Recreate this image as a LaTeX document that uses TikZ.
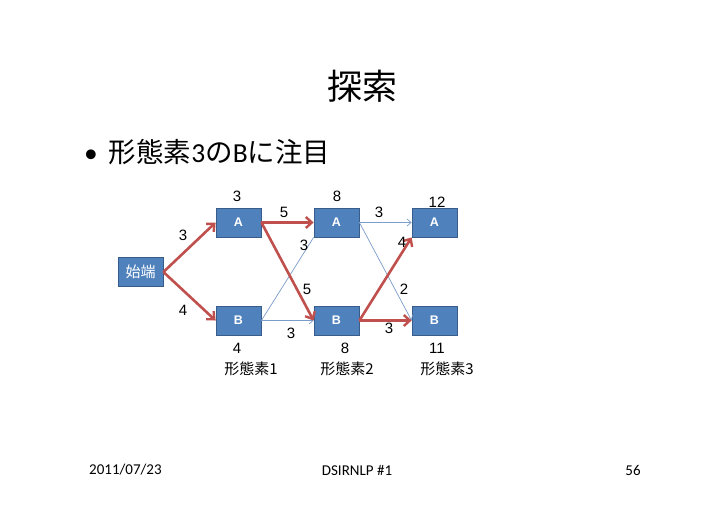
\documentclass[tikz,border=0pt]{standalone}
\usepackage{fontspec}
\setmainfont{Liberation Sans}
\newfontfamily\cjk{Noto Sans CJK JP}
\newfontfamily\calfont{Carlito}
\usetikzlibrary{arrows.meta}
\definecolor{boxfill}{HTML}{4F81BD}
\definecolor{boxdraw}{HTML}{385D8A}
\definecolor{redline}{HTML}{C0504D}
\definecolor{blueline}{HTML}{7C9CCB}
\tikzset{
  box/.style={draw=boxdraw, line width=0.8pt, fill=boxfill, minimum width=45pt, minimum height=29pt, inner sep=0pt, text=white, font=\fontsize{12.5}{14}\selectfont},
  redarrow/.style={draw=redline, line width=2.6pt, -{Straight Barb[length=6pt,width=11pt,line width=2.4pt]}},
  bluearrow/.style={draw=blueline, line width=0.7pt, -{Straight Barb[length=4pt,width=7pt]}},
  blueplain/.style={draw=blueline, line width=0.7pt},
  num/.style={font=\fontsize{15}{17}\selectfont, inner sep=0pt},
  lab/.style={font=\cjk\fontsize{15}{17}\selectfont, inner sep=0pt},
}
\begin{document}
\begin{tikzpicture}[x=1pt,y=-1pt]
\useasboundingbox[fill=white] (0,0) rectangle (728,515);
% title and bullet
\node[font=\cjk\fontsize{35}{40}\selectfont] (title) at (362,86) {探索};
\node[anchor=west, inner sep=0pt, font=\calfont\fontsize{27.5}{30}\selectfont] (bullet) at (84,152) {•\hspace{11pt}{\cjk 形態素}3{\cjk の}B{\cjk に注目}};
% nodes
\node[box] (S) at (140.5,272) {\cjk\fontsize{15}{17}\selectfont 始端};
\node[box] (A1) at (238.5,222.5) {\textbf{A}};
\node[box] (B1) at (238.5,320.5) {\textbf{B}};
\node[box] (A2) at (336.5,222.5) {\textbf{A}};
\node[box] (B2) at (336.5,320.5) {\textbf{B}};
\node[box] (A3) at (434.5,222.5) {\textbf{A}};
\node[box] (B3) at (434.5,320.5) {\textbf{B}};
% blue edges
\draw[blueplain] (B1.east) -- (A2.south west);
\draw[bluearrow] (B1.east) -- (B2.west);
\draw[bluearrow] (A2.east) -- (A3.west);
\draw[bluearrow] (A2.east) -- (B3.west);
% red edges
\draw[redarrow] (S.east) -- (A1.west);
\draw[redarrow] (S.east) -- (B1.west);
\draw[redarrow] (A1.east) -- (A2.west);
\draw[redarrow] (A1.east) -- (B2.west);
\draw[redarrow] (B2.east) -- (A3.south west);
\draw[redarrow] (B2.east) -- (B3.west);
% edge labels
\node[num] (e1) at (183,235) {3};
\node[num] (e2) at (183,310) {4};
\node[num] (e3) at (284,212) {5};
\node[num] (e4) at (304,245) {3};
\node[num] (e5) at (307,289) {5};
\node[num] (e6) at (291,333) {3};
\node[num] (e7) at (379,212) {3};
\node[num] (e8) at (402,242) {4};
\node[num] (e9) at (404,289) {2};
\node[num] (e10) at (389,328) {3};
% node scores
\node[num] (sA1) at (237,196) {3};
\node[num] (sB1) at (237,348) {4};
\node[num] (sA2) at (337,196) {8};
\node[num] (sB2) at (345,348) {8};
\node[num] (sA3) at (437,202) {12};
\node[num] (sB3) at (437,348) {11};
% column labels
\node[lab] (m1) at (251,369) {形態素1};
\node[lab] (m2) at (347,369) {形態素2};
\node[lab] (m3) at (447,369) {形態素3};
% footer
\node[anchor=west, inner sep=0pt, font=\calfont\fontsize{15}{18}\selectfont] (date) at (89,470) {2011/07/23};
\node[inner sep=0pt, font=\calfont\fontsize{15}{18}\selectfont] (conf) at (357,470) {DSIRNLP \#1};
\node[inner sep=0pt, font=\calfont\fontsize{15}{18}\selectfont] (page) at (633,470) {56};
\end{tikzpicture}
\end{document}
